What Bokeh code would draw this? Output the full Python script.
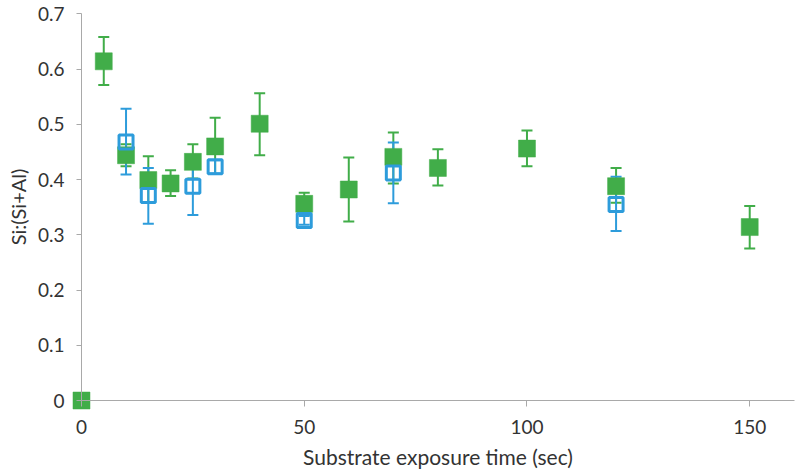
from bokeh.plotting import figure
from bokeh.models import Range1d, ColumnDataSource, Whisker, TeeHead, FixedTicker, NumeralTickFormatter
from bokeh.embed import file_html
from bokeh.resources import INLINE

# Data
time_green = [0, 5, 10, 15, 20, 25, 30, 40, 50, 60, 70, 80, 100, 120, 150]
si_green = [0.0, 0.614, 0.444, 0.399, 0.393, 0.432, 0.460, 0.501, 0.356, 0.382, 0.441, 0.421, 0.456, 0.388, 0.314]
err_green_up = [0.0, 0.044, 0.020, 0.043, 0.024, 0.032, 0.052, 0.055, 0.020, 0.058, 0.044, 0.034, 0.033, 0.033, 0.038]
err_green_low = [0.0, 0.043, 0.020, 0.040, 0.023, 0.030, 0.050, 0.057, 0.020, 0.058, 0.048, 0.032, 0.032, 0.030, 0.039]

time_blue = [10, 15, 25, 30, 50, 70, 120]
si_blue = [0.468, 0.371, 0.388, 0.423, 0.326, 0.412, 0.355]
err_blue_up = [0.060, 0.050, 0.050, 0.012, 0.008, 0.055, 0.050]
err_blue_low = [0.059, 0.051, 0.052, 0.012, 0.008, 0.055, 0.048]

x_ticks = [0, 50, 100, 150]
y_ticks = [0, 0.1, 0.2, 0.3, 0.4, 0.5, 0.6, 0.7]

GREEN = "#41AD49"
BLUE = "#2D9CDB"
AXIS = "#A9A9A9"
TEXT = "#333333"
FONT = "Lato"

p = figure(width=796, height=472,
           x_range=Range1d(-18.18, 160.5), y_range=Range1d(-0.1303, 0.7241),
           output_backend="svg", toolbar_location=None,
           min_border_left=0, min_border_right=0, min_border_top=0, min_border_bottom=0)
p.outline_line_color = None
p.grid.visible = False
p.background_fill_color = "white"

# error bars (drawn under markers)
gsrc = ColumnDataSource(dict(
    x=[t for t, e in zip(time_green, err_green_up) if e > 0],
    upper=[v + e for v, e in zip(si_green, err_green_up) if e > 0],
    lower=[v - e for v, e, u in zip(si_green, err_green_low, err_green_up) if u > 0],
))
bsrc = ColumnDataSource(dict(
    x=time_blue,
    upper=[v + e for v, e in zip(si_blue, err_blue_up)],
    lower=[v - e for v, e in zip(si_blue, err_blue_low)],
))
for src, col in ((gsrc, GREEN), (bsrc, BLUE)):
    w = Whisker(source=src, base="x", upper="upper", lower="lower", dimension="height",
                line_color=col, line_width=2, level="underlay",
                upper_head=TeeHead(size=11, line_color=col, line_width=2),
                lower_head=TeeHead(size=11, line_color=col, line_width=2))
    p.add_layout(w)

p.scatter(time_green, si_green, marker="square", size=17,
          fill_color=GREEN, line_color=GREEN, line_width=0.5)
p.scatter(time_blue, si_blue, marker="square", size=14,
          fill_alpha=0, line_color=BLUE, line_width=3)

for ax in (p.xaxis, p.yaxis):
    ax.axis_line_color = AXIS
    ax.major_tick_line_color = AXIS
    ax.minor_tick_line_color = None
    ax.major_tick_in = 0
    ax.major_label_text_font = FONT
    ax.major_label_text_font_size = "19px"
    ax.major_label_text_color = TEXT
    ax.axis_label_text_font = FONT
    ax.axis_label_text_font_style = "normal"
    ax.axis_label_text_color = TEXT

p.xaxis.axis_label_text_font_size = "21px"
p.yaxis.axis_label_text_font_size = "20px"
p.xaxis.fixed_location = 0
p.yaxis.fixed_location = 0
p.xaxis.bounds = (0, 160)
p.yaxis.bounds = (0, 0.7)
p.xaxis.ticker = FixedTicker(ticks=x_ticks)
p.yaxis.ticker = FixedTicker(ticks=y_ticks)
p.yaxis.formatter = NumeralTickFormatter(format="0.[0]")
p.xaxis.major_tick_out = 6
p.yaxis.major_tick_out = 5
p.xaxis.major_label_standoff = 13
p.yaxis.major_label_standoff = 12
p.xaxis.axis_label = "Substrate exposure time (sec)"
p.yaxis.axis_label = "Si:(Si+Al)"
p.xaxis.axis_label_standoff = 7
p.yaxis.axis_label_standoff = 5

open("out.html", "w").write(file_html(p, INLINE))
